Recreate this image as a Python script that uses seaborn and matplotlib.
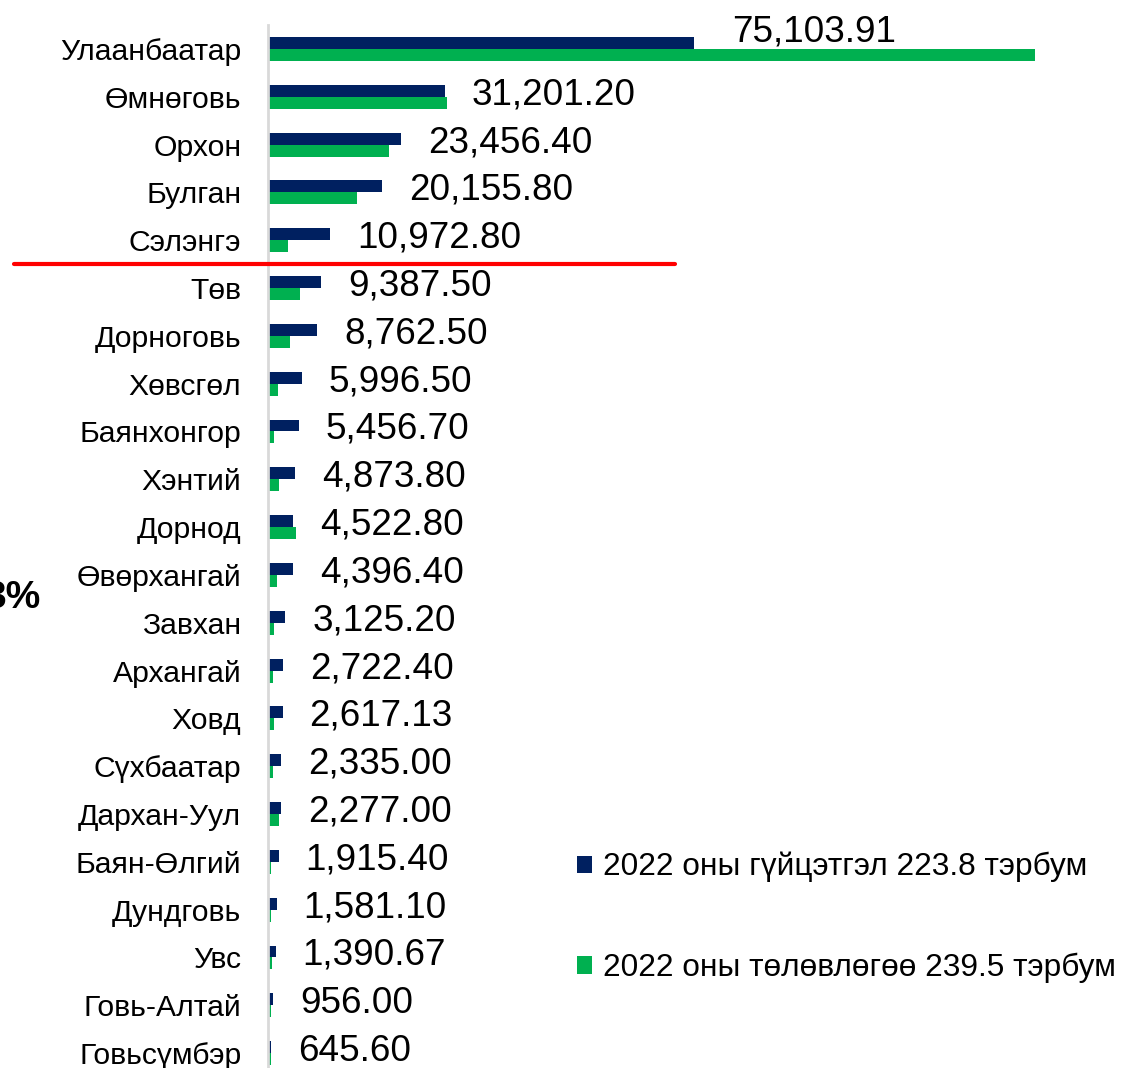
import matplotlib
matplotlib.use("Agg")
import matplotlib.pyplot as plt
import matplotlib.transforms as mtransforms
import pandas as pd
import seaborn as sns

REGIONS = [
    "Улаанбаатар", "Өмнөговь", "Орхон", "Булган", "Сэлэнгэ", "Төв",
    "Дорноговь", "Хөвсгөл", "Баянхонгор", "Хэнтий", "Дорнод", "Өвөрхангай",
    "Завхан", "Архангай", "Ховд", "Сүхбаатар", "Дархан-Уул", "Баян-Өлгий",
    "Дундговь", "Увс", "Говь-Алтай", "Говьсүмбэр",
]
ACTUAL = [
    75103.91, 31201.20, 23456.40, 20155.80, 10972.80, 9387.50,
    8762.50, 5996.50, 5456.70, 4873.80, 4522.80, 4396.40,
    3125.20, 2722.40, 2617.13, 2335.00, 2277.00, 1915.40,
    1581.10, 1390.67, 956.00, 645.60,
]
# plan values
PLAN = [
    135100, 31560, 21350, 15720, 3630, 5740,
    3980, 1760, 1050, 1990, 4980, 1580,
    1050, 880, 1110, 880, 1990, 530,
    530, 700, 530, 630,
]
SERIES = ["2022 оны гүйцэтгэл 223.8 тэрбум", "2022 оны төлөвлөгөө 239.5 тэрбум"]
COLORS = ["#002060", "#00B050"]

df = pd.concat([
    pd.DataFrame({"region": REGIONS, "value": ACTUAL, "series": SERIES[0]}),
    pd.DataFrame({"region": REGIONS, "value": PLAN, "series": SERIES[1]}),
])

sns.set_theme(style="white")
plt.rcParams["font.family"] = ["Liberation Sans", "DejaVu Sans"]

W, H = 1122, 1068
fig = plt.figure(figsize=(W / 100, H / 100), dpi=100)
left = 267.7 / W
top = 25 / H
bottom = -9 / H
ax = fig.add_axes([left, bottom, 1 - left, 1 - top - bottom])

sns.barplot(
    data=df, y="region", x="value", hue="series", order=REGIONS,
    hue_order=SERIES, palette=COLORS, orient="h", width=0.5,
    saturation=1, linewidth=0, ax=ax, legend=True,
)
ax.set_xlim(0, 150360)
ax.set_ylim(len(REGIONS) - 0.5, -0.5)
ax.set_xlabel("")
ax.set_ylabel("")
ax.set_xticks([])
ax.tick_params(axis="y", length=0, pad=19, labelsize=21.7, labelcolor="black")
for side in ["top", "right", "bottom"]:
    ax.spines[side].set_visible(False)
ax.spines["left"].set_color("#D9D9D9")
ax.spines["left"].set_linewidth(2)

# value labels next to the navy bars
navy_bars = ax.containers[0]
for i, (bar, val) in enumerate(zip(navy_bars, ACTUAL)):
    y = bar.get_y() + bar.get_height() / 2
    dx, dy = (38, 11) if i == 0 else (27, -4)
    ax.annotate(f"{val:,.2f}", (bar.get_width(), y), xytext=(dx * 0.72, dy * 0.72),
                textcoords="offset points", ha="left", va="center",
                fontsize=26.6, color="black")

# red separator between top five and the rest
trans = mtransforms.blended_transform_factory(fig.transFigure, ax.transData)
ax.plot([14 / W, 675 / W], [4.5, 4.5], color="#FF0000", lw=3, transform=trans,
        clip_on=False, zorder=5)

fig.text(40 / W, 1 - 598 / H, "3%", ha="right", va="center", fontsize=28,
         fontweight="bold", color="black")

handles, labels = ax.get_legend_handles_labels()
ax.legend(handles, labels, loc="upper left", bbox_to_anchor=(577 / W, 1 - 852 / H),
          bbox_transform=fig.transFigure, frameon=False, fontsize=22.8,
          labelcolor="black",
          handlelength=0.47, handleheight=0.47, handletextpad=0.34,
          labelspacing=2.22, borderpad=0, borderaxespad=0)

fig.savefig("out.png", dpi=100)
